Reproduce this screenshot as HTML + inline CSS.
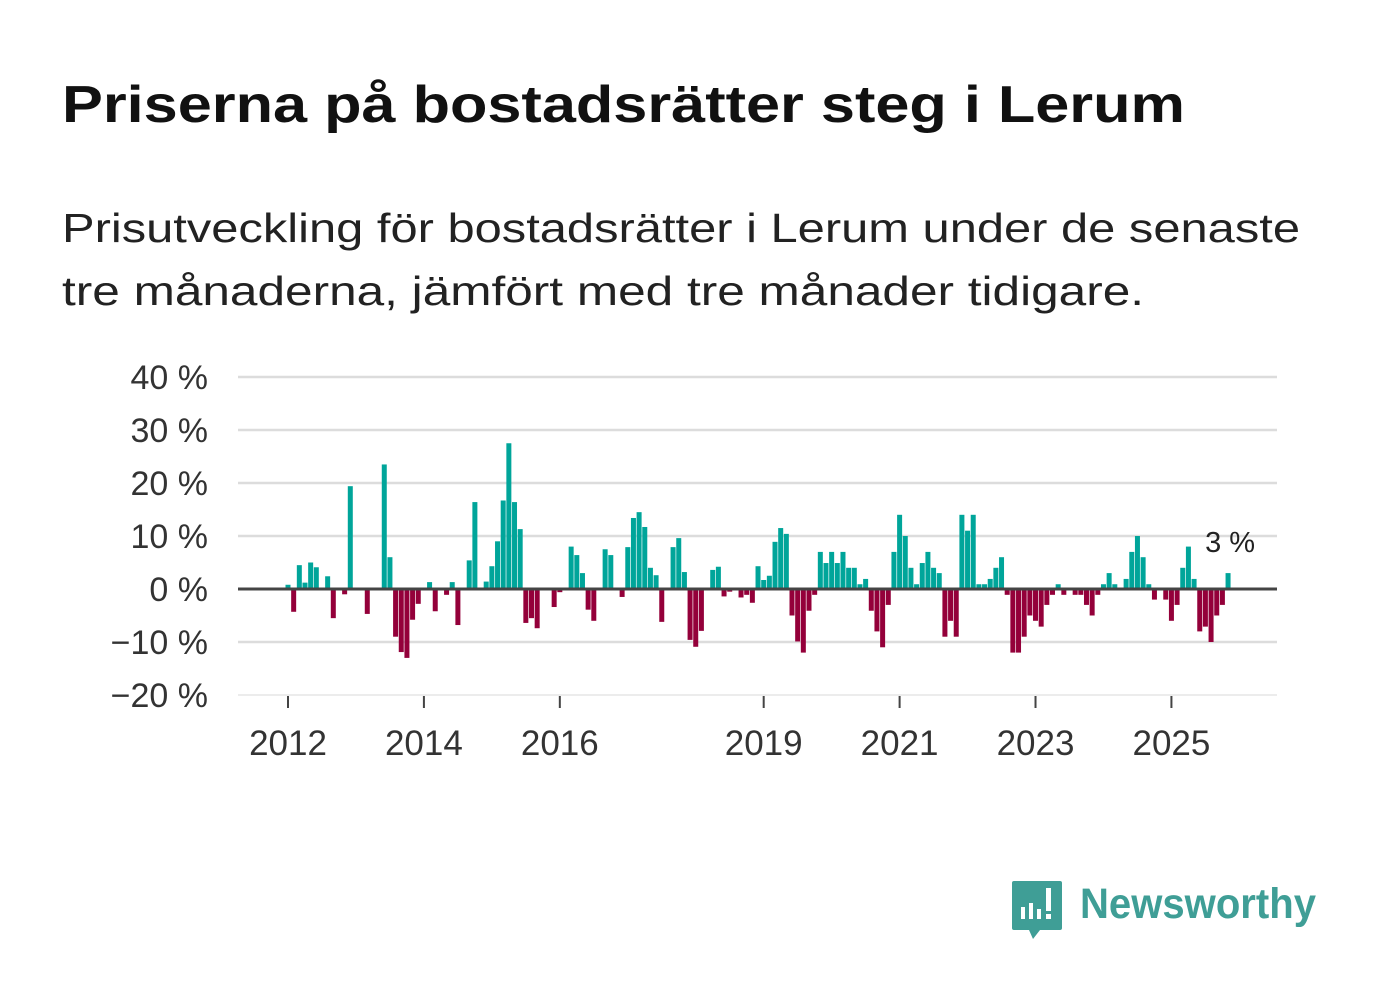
<!DOCTYPE html>
<html><head><meta charset="utf-8"><style>
html,body{margin:0;padding:0;background:#fff;width:1382px;height:999px;overflow:hidden}
svg{display:block;font-family:"Liberation Sans",sans-serif}
</style></head><body>
<svg id="chart" width="1382" height="999" viewBox="0 0 1382 999">
<text x="62" y="122" font-size="52" font-weight="bold" fill="#111" textLength="1123" lengthAdjust="spacingAndGlyphs">Priserna på bostadsrätter steg i Lerum</text>
<text x="62" y="242" font-size="41" fill="#222" textLength="1238" lengthAdjust="spacingAndGlyphs">Prisutveckling för bostadsrätter i Lerum under de senaste</text>
<text x="62" y="305" font-size="41" fill="#222" textLength="1082" lengthAdjust="spacingAndGlyphs">tre månaderna, jämfört med tre månader tidigare.</text>
<g id="grid"></g>
<g id="yticks"></g>
<g id="bars"></g>
<line x1="238" x2="1277" y1="589" y2="589" stroke="#444" stroke-width="3"/>
<g id="xticks"></g>
<text id="lastlabel" font-size="29" fill="#222"></text>
<g>
<path d="M1014 881 h46 a2 2 0 0 1 2 2 v45 a2 2 0 0 1 -2 2 h-20 l-7 9 l-4 -9 h-15 a2 2 0 0 1 -2 -2 v-45 a2 2 0 0 1 2 -2z" fill="#3f9e96"/>
<rect x="1021" y="907" width="4" height="12" fill="#fff"/><rect x="1029" y="903" width="4" height="16" fill="#fff"/><rect x="1037" y="909" width="4" height="10" fill="#fff"/><rect x="1046" y="888" width="5" height="23" fill="#fff"/><rect x="1046" y="914" width="5" height="5" fill="#fff"/>
<text x="1080" y="918" font-size="43" font-weight="bold" fill="#3f9e96" textLength="236" lengthAdjust="spacingAndGlyphs">Newsworthy</text>
</g>
</svg>
<script>
const values = [0.8,-4.3,4.5,1.2,5,4.1,0,2.4,-5.5,0,-1,19.4,0,0,-4.7,0,0,23.5,6,-9,-11.9,-13,-5.8,-2.8,0,1.3,-4.2,0,-1.1,1.3,-6.8,0,5.4,16.4,0,1.4,4.3,9,16.7,27.5,16.4,11.3,-6.4,-5.5,-7.4,0,0,-3.4,-0.6,0,8,6.4,3,-3.9,-6,0,7.5,6.4,0,-1.5,7.9,13.4,14.5,11.7,4,2.6,-6.2,0,7.9,9.6,3.2,-9.6,-10.9,-7.9,0,3.6,4.2,-1.4,-0.5,0,-1.6,-1.1,-2.6,4.3,1.7,2.5,8.9,11.5,10.4,-5,-9.9,-12,-4.1,-1.1,7,4.9,7,4.9,7,4,4,0.9,1.9,-4.1,-8,-11,-3,7,14,10,4,0.9,4.9,7,4,3,-9,-6,-9,14,11,14,0.9,0.9,1.9,4,6,-1.1,-12,-12,-9,-5,-6,-7.1,-3,-1.1,0.9,-1.1,0,-1.1,-1.1,-3,-5,-1.1,0.9,3,0.9,0,1.9,7,10,6,0.9,-2,0,-2,-6,-3,4,8,1.9,-8,-7.1,-10,-5,-3,3];
const startYear = 2012;
const yTicks = [40,30,20,10,0,-10,-20];
const xTickYears = [2012,2014,2016,2019,2021,2023,2025];
const lastLabel = "3 %";
const NS='http://www.w3.org/2000/svg';
const y = v => 589 - v*5.3;
const step = 5.663;
const x = i => 288 + i*step;
const mk=(t,a,p)=>{const e=document.createElementNS(NS,t);for(const k in a)e.setAttribute(k,a[k]);p.appendChild(e);return e;};
const grid=document.getElementById('grid'), yt=document.getElementById('yticks'), bars=document.getElementById('bars'), xt=document.getElementById('xticks');
yTicks.forEach(v=>{
  const l=mk('line',{x1:238,x2:1277,y1:y(v),y2:y(v),stroke:v===-20?'#e6e6e6':'#dcdcdc','stroke-width':v===-20?1.5:2.5},grid);
  
  
  const t=mk('text',{x:208,y:y(v)+12,'text-anchor':'end','font-size':34,fill:'#333'},yt);
  t.textContent=(v<0?'\u2212'+(-v):v)+' %';
  
  
});
values.forEach((v,i)=>{
  if(v===0)return;
  const r=mk('rect',{x:x(i)-2.5,width:5,y:v>0?y(v):589,height:Math.abs(v)*5.3,fill:v>0?'#00a59a':'#94003a'},bars);
  
  
});
xTickYears.forEach(yr=>{
  const xx=x((yr-startYear)*12);
  const l=mk('line',{x1:xx,x2:xx,y1:696,y2:708,stroke:'#444','stroke-width':2},xt);
  
  
  const t=mk('text',{x:xx,y:755,'text-anchor':'middle','font-size':35,fill:'#333'},xt);
  t.textContent=yr;
  
  
});
const ll=document.getElementById('lastlabel');
ll.setAttribute('x',x(values.length-1)+27);
ll.setAttribute('y',552);
ll.setAttribute('text-anchor','end');
ll.textContent=lastLabel;
</script>
</body></html>
